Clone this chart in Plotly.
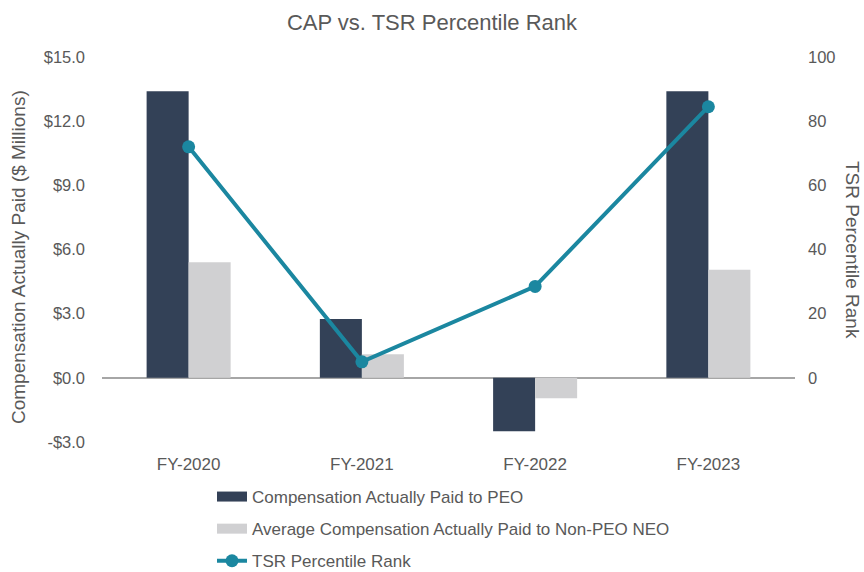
import plotly.graph_objects as go

categories = ["FY-2020", "FY-2021", "FY-2022", "FY-2023"]
cap_peo = [13.4, 2.75, -2.5, 13.4]
cap_neo = [5.4, 1.1, -0.95, 5.05]
tsr_rank = [72, 5, 28.5, 84.5]

left_ticks = [-3, 0, 3, 6, 9, 12, 15]
left_labels = ["-$3.0", "$0.0", "$3.0", "$6.0", "$9.0", "$12.0", "$15.0"]
right_ticks = [0, 20, 40, 60, 80, 100]

DARK = "#334157"
LIGHT = "#D0D0D2"
TEAL = "#1B87A0"
TXT = "#595959"
FONT = "Liberation Sans, Arial, sans-serif"

fig = go.Figure()
fig.add_trace(go.Bar(x=categories, y=cap_peo, name="Compensation Actually Paid to PEO",
                     marker=dict(color=DARK, line=dict(width=0)), showlegend=False))
fig.add_trace(go.Bar(x=categories, y=cap_neo, name="Average Compensation Actually Paid to Non-PEO NEO",
                     marker=dict(color=LIGHT, line=dict(width=0)), showlegend=False))
fig.add_trace(go.Scatter(x=categories, y=tsr_rank, name="TSR Percentile Rank", yaxis="y2",
                         mode="lines+markers", line=dict(color=TEAL, width=4),
                         marker=dict(color=TEAL, size=13), showlegend=False))

# legend entries (swatches drawn as thick lines, like the reference)
fig.add_trace(go.Scatter(x=[None], y=[None], mode="lines", name="Compensation Actually Paid to PEO",
                         line=dict(color=DARK, width=10), legendgroup="a", hoverinfo="skip"))
fig.add_trace(go.Scatter(x=[None], y=[None], mode="lines", name="Average Compensation Actually Paid to Non-PEO NEO",
                         line=dict(color=LIGHT, width=10), legendgroup="b", hoverinfo="skip"))
fig.add_trace(go.Scatter(x=[None], y=[None], mode="lines+markers", name="TSR Percentile Rank",
                         line=dict(color=TEAL, width=4), marker=dict(color=TEAL, size=13),
                         legendgroup="c", hoverinfo="skip"))

fig.update_layout(
    width=864, height=572,
    paper_bgcolor="white", plot_bgcolor="white",
    font=dict(family=FONT, color=TXT, size=17),
    title=dict(text="CAP vs. TSR Percentile Rank", x=0.5, xanchor="center",
               yref="container", y=1 - 22 / 572, yanchor="middle",
               font=dict(size=22, color=TXT)),
    margin=dict(l=102, r=69, t=57, b=130, autoexpand=False),
    barmode="group", bargap=0.515, bargroupgap=0,
    showlegend=True,
    legend=dict(orientation="v", xref="container", x=212 / 864, xanchor="left",
                yref="container", y=1 - 479 / 572, yanchor="top",
                font=dict(size=17, color=TXT), tracegroupgap=7,
                bgcolor="rgba(0,0,0,0)"),
    xaxis=dict(showgrid=False, showline=False, ticks="", automargin=False,
               ticklabelstandoff=10, tickfont=dict(size=17, color=TXT)),
    yaxis=dict(range=[-3, 15], tickvals=left_ticks, ticktext=left_labels, showgrid=False,
               zeroline=True, zerolinecolor="#A6A6A6", zerolinewidth=2, automargin=False,
               ticklabelstandoff=16,
               tickfont=dict(size=16.5, color=TXT), ticks="", showline=False),
    yaxis2=dict(range=[-20, 100], tickvals=right_ticks, overlaying="y", side="right", showgrid=False,
                zeroline=False, showline=False, ticks="", automargin=False,
                ticklabelstandoff=12,
                tickfont=dict(size=16.5, color=TXT)),
    annotations=[
        dict(text="Compensation Actually Paid ($ Millions)", xref="paper", yref="paper",
             x=(18 - 102) / 693, y=(442 - 257) / 385, xanchor="center", yanchor="middle",
             textangle=-90, showarrow=False, font=dict(size=19, color=TXT)),
        dict(text="TSR Percentile Rank", xref="paper", yref="paper",
             x=(853 - 102) / 693, y=(442 - 250) / 385, xanchor="center", yanchor="middle",
             textangle=90, showarrow=False, font=dict(size=19, color=TXT)),
    ],
)

fig.write_html("out.html", config={"displayModeBar": False},
               post_script="document.body.style.margin='0';")
